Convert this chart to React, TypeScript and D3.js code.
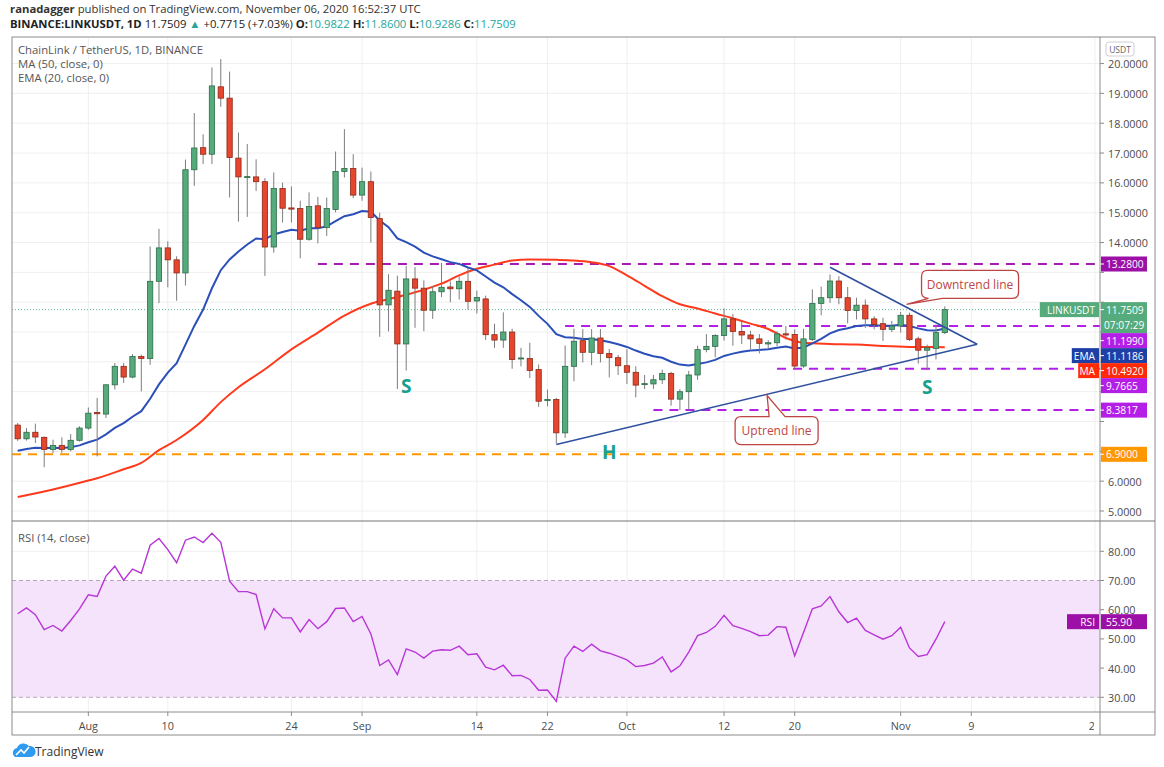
import React from "react";
import * as d3 from "d3";

const W = 1164;
const H = 767;
const FONT = "'Open Sans', 'Noto Sans', sans-serif";

// daily candles, LINK/USDT, first one on 2020-07-24
const firstDate = "2020-07-24";
const opens = [
  7.88, 7.42, 7.64, 7.47, 7.06, 7.2, 7.06, 7.37, 7.78, 8.3,
  8.25, 9.23, 9.85, 9.49, 10.18, 10.11, 12.7, 13.82, 13.42, 12.98,
  16.44, 17.18, 16.96, 19.22, 18.84, 16.83, 16.19, 16.2, 16.04, 13.85,
  15.81, 15.16, 15.14, 14.11, 15.23, 14.5, 15.11, 16.38, 16.48, 15.59,
  16.04, 14.8, 11.91, 12.37, 10.6, 12.78, 12.47, 11.73, 12.35, 12.51,
  12.45, 12.7, 12.04, 12.11, 10.91, 10.73, 11.0, 10.11, 10.11, 9.74,
  8.7, 8.74, 7.62, 9.85, 10.71, 10.32, 10.8, 10.28, 10.14, 9.87,
  9.65, 9.24, 9.26, 9.4, 9.61, 8.75, 9.0, 9.56, 10.41, 10.52,
  10.88, 11.44, 11.02, 10.9, 10.77, 10.6, 10.64, 10.94, 10.92, 9.86,
  10.75, 11.96, 12.15, 12.71, 12.15, 11.72, 11.9, 11.44, 11.28, 11.09,
  11.2, 11.56, 10.77, 10.39, 10.45, 10.9822,
];
const highs = [
  7.95, 7.78, 7.93, 7.5, 7.39, 7.47, 7.58, 7.84, 8.47, 8.79,
  9.25, 9.96, 9.96, 10.26, 10.24, 13.87, 14.46, 14.04, 13.54, 16.78,
  18.34, 17.63, 19.87, 20.15, 19.73, 17.69, 17.3, 16.79, 16.16, 16.35,
  16.01, 15.88, 15.4, 15.68, 15.53, 15.51, 17.05, 17.8, 16.96, 16.51,
  16.38, 15.0, 12.94, 12.89, 13.21, 13.18, 12.73, 12.54, 13.32, 12.7,
  12.87, 13.15, 12.39, 12.22, 11.28, 11.66, 11.11, 10.47, 10.64, 9.91,
  9.07, 8.79, 10.55, 11.11, 11.1, 11.1, 11.1, 10.43, 10.23, 10.43,
  9.85, 9.56, 9.56, 9.74, 9.67, 9.09, 9.7, 10.54, 10.93, 10.93,
  11.79, 11.6, 11.38, 11.04, 10.93, 10.73, 11.03, 11.2, 11.09, 11.11,
  12.43, 12.52, 12.93, 12.87, 12.51, 12.15, 12.09, 11.53, 11.48, 11.37,
  11.67, 11.65, 10.84, 10.58, 11.25, 11.86,
];
const lows = [
  7.35, 7.36, 7.28, 6.47, 6.94, 6.95, 7.0, 7.33, 7.72, 6.83,
  8.12, 9.07, 9.29, 9.45, 9.01, 9.9, 11.97, 12.5, 12.05, 12.56,
  15.9, 16.63, 16.63, 18.55, 15.51, 14.7, 14.86, 15.73, 12.88, 13.66,
  14.67, 14.67, 13.47, 14.06, 13.97, 14.22, 15.01, 16.18, 15.49, 15.4,
  14.0, 10.84, 11.02, 9.09, 9.71, 11.14, 11.03, 11.44, 12.17, 12.0,
  12.09, 11.75, 11.62, 10.73, 10.47, 10.47, 9.77, 9.85, 9.46, 8.49,
  8.51, 7.26, 7.45, 9.35, 9.98, 9.89, 9.98, 9.48, 9.56, 9.26,
  8.81, 9.09, 9.09, 9.26, 8.53, 8.39, 8.4, 9.4, 10.32, 10.15,
  10.71, 10.54, 10.6, 10.43, 10.28, 10.45, 10.53, 10.75, 9.77, 9.8,
  10.7, 11.56, 11.98, 11.93, 11.29, 11.42, 11.14, 11.09, 10.7, 11.0,
  10.98, 10.7, 9.94, 9.72, 10.08, 10.9286,
];
const closes = [
  7.42, 7.64, 7.48, 7.06, 7.2, 7.06, 7.37, 7.78, 8.28, 8.26,
  9.23, 9.85, 9.49, 10.18, 10.11, 12.7, 13.82, 13.42, 12.98, 16.44,
  17.17, 16.96, 19.25, 18.84, 16.85, 16.2, 16.21, 16.04, 13.85, 15.81,
  15.15, 15.12, 14.11, 15.21, 14.5, 15.14, 16.38, 16.48, 15.59, 16.04,
  14.84, 11.91, 12.4, 10.6, 12.78, 12.47, 11.73, 12.35, 12.5, 12.45,
  12.7, 12.03, 12.16, 10.91, 10.73, 11.0, 10.08, 10.13, 9.71, 8.68,
  8.74, 7.62, 9.85, 10.69, 10.32, 10.8, 10.28, 10.14, 9.87, 9.65,
  9.22, 9.27, 9.4, 9.61, 8.75, 9.0, 9.56, 10.41, 10.52, 10.88,
  11.44, 11.02, 10.9, 10.77, 10.62, 10.64, 10.94, 10.9, 9.86, 10.77,
  11.96, 12.15, 12.71, 12.15, 11.72, 11.9, 11.44, 11.25, 11.09, 11.2,
  11.56, 10.75, 10.39, 10.47, 10.98, 11.7509,
];

// EMA(20) value on the first visible candle
const emaSeed = 7.02;

// MA(50)
const maDates = [
  "2020-07-24", "2020-07-28", "2020-08-01", "2020-08-02", "2020-08-05", "2020-08-07",
  "2020-08-09", "2020-08-11", "2020-08-14", "2020-08-16", "2020-08-18", "2020-08-21",
  "2020-08-24", "2020-08-27", "2020-08-30", "2020-09-02", "2020-09-04", "2020-09-06",
  "2020-09-08", "2020-09-10", "2020-09-12", "2020-09-14", "2020-09-16", "2020-09-18",
  "2020-09-20", "2020-09-23", "2020-09-25", "2020-09-27", "2020-09-29", "2020-10-01",
  "2020-10-03", "2020-10-05", "2020-10-07", "2020-10-09", "2020-10-11", "2020-10-13",
  "2020-10-15", "2020-10-17", "2020-10-19", "2020-10-21", "2020-10-24", "2020-10-27",
  "2020-10-30", "2020-11-02", "2020-11-06",
];
const maValues = [
  5.47, 5.72, 6.02, 6.1, 6.4, 6.61,
  7.04, 7.38, 8.05, 8.65, 9.15, 9.75,
  10.42, 10.98, 11.55, 11.95, 12.1, 12.25,
  12.42, 12.62, 12.9, 13.12, 13.26, 13.4,
  13.43, 13.42, 13.4, 13.34, 13.21, 12.9,
  12.55, 12.2, 11.93, 11.79, 11.62, 11.46,
  11.28, 11.1, 10.8, 10.64, 10.6, 10.58,
  10.53, 10.5, 10.492,
];

// RSI(14), one value per candle
const rsiValues = [
  58.6, 60.6, 58.3, 53.2, 54.6, 52.7, 56.3, 60.3, 65.1, 64.5,
  71.5, 74.9, 70.1, 73.9, 72.5, 82.1, 84.4, 80.6, 76.1, 83.8,
  84.9, 83.0, 86.2, 83.1, 69.8, 66.2, 66.2, 65.2, 53.4, 60.3,
  57.2, 57.2, 52.4, 56.6, 53.5, 55.9, 60.4, 60.6, 55.9, 57.7,
  51.7, 40.9, 42.8, 37.8, 46.6, 45.5, 43.4, 45.8, 46.3, 46.1,
  47.5, 44.6, 44.9, 40.3, 39.4, 41.0, 37.4, 37.5, 36.1, 32.4,
  32.5, 28.6, 43.4, 47.5, 45.7, 48.2, 45.9, 45.1, 44.0, 42.8,
  40.5, 40.9, 41.7, 43.8, 38.7, 40.8, 45.5, 51.1, 52.2, 54.3,
  58.1, 54.5, 53.6, 52.5, 51.1, 51.3, 54.2, 54.0, 44.2, 52.2,
  60.3, 61.3, 64.5, 59.3, 55.6, 57.1, 52.9, 51.4, 49.9, 51.1,
  54.0, 46.9, 44.0, 44.6, 49.9, 55.9,
];

// horizontal levels drawn on the chart
const levelValues = [13.28, 11.199, 9.7665, 8.3817, 6.9];
const levelStarts = ["2020-08-27", "2020-09-24", "2020-10-18", "2020-10-04", "2020-07-10"];

// trendlines: [start date, start price, end date, end price]
const downtrend = ["2020-10-24", 13.17, "2020-11-09T16:00:00Z", 10.59] as const;
const uptrend = ["2020-09-23", 7.23, "2020-11-09T16:00:00Z", 10.59] as const;

// pattern labels
const patternTexts = ["S", "H", "S"];
const patternDates = ["2020-09-06", "2020-09-29", "2020-11-04"];
const patternPrices = [9.19, 6.99, 9.17];

// time axis
const timeTickDates = [
  "2020-08-01", "2020-08-10", "2020-08-24", "2020-09-01", "2020-09-14", "2020-09-22",
  "2020-10-01", "2020-10-12", "2020-10-20", "2020-11-01", "2020-11-09", "2020-11-23",
];
const timeTickLabels = ["Aug", "10", "24", "Sep", "14", "22", "Oct", "12", "20", "Nov", "9", "23"];
const rsiTicks = [30, 40, 50, 60, 70, 80];

const parse = (s: string) => new Date(s.length <= 10 ? s + "T00:00:00Z" : s);
const fmt4 = d3.format(".4f");

const C = {
  up: "#56ab7c",
  upLine: "#2c6b48",
  down: "#e6462d",
  downLine: "#8e2818",
  wick: "#7d7d7d",
  ema: "#2a4fb8",
  ma: "#ff3a1c",
  grid: "#efefef",
  axis: "#8c8c8c",
  text: "#4c4c4c",
  violet: "#b41fe8",
  purple: "#9c10a8",
  orange: "#ff9800",
  rsi: "#b835d6",
  trend: "#2f4f9f",
  teal: "#16a08f",
  note: "#bf4545",
};

export default function App() {
  const L = 12, R = 1100, T = 37, MB = 521, RB = 712, FR = 1155, FB = 735;

  const start = parse(firstDate);
  const dates = d3.utcDay.range(start, d3.utcDay.offset(start, closes.length));
  const x = d3.scaleUtc().domain([dates[0], dates[dates.length - 1]]).range([17.7, 944.8]);
  const y = d3.scaleLinear().domain([5, 20]).range([511, 63.55]);
  const ry = d3.scaleLinear().domain([30, 70]).range([697.3, 580.5]);
  const step = x(dates[1]) - x(dates[0]);
  const bw = step * 0.6;

  const k = 2 / 21;
  const ema: number[] = [];
  closes.forEach((c, i) => ema.push(i === 0 ? emaSeed : ema[i - 1] + k * (c - ema[i - 1])));

  const emaLine = d3.line<number>().x((_, i) => x(dates[i])).y((v) => y(v))(ema) || "";
  const maLine =
    d3
      .line<number>()
      .curve(d3.curveMonotoneX)
      .x((_, i) => x(parse(maDates[i])))
      .y((v) => y(v))(maValues) || "";
  const rsiLine = d3.line<number>().x((_, i) => x(dates[i])).y((v) => ry(v))(rsiValues) || "";

  const last = closes[closes.length - 1];
  const priceTicks = y.ticks(15);

  // price tags with TradingView-like stacking
  type Tag = { v: number; color: string; h: number; pill?: string; sub?: string };
  const tags: Tag[] = [
    { v: levelValues[0], color: C.purple, h: 15 },
    { v: last, color: C.up, h: 31, pill: "LINKUSDT", sub: "07:07:29" },
    { v: levelValues[1], color: C.violet, h: 15 },
    { v: ema[ema.length - 1], color: "#1e3fa6", h: 15, pill: "EMA" },
    { v: maValues[maValues.length - 1], color: "#ff2a08", h: 15, pill: "MA" },
    { v: levelValues[2], color: C.violet, h: 15 },
    { v: levelValues[3], color: C.violet, h: 15 },
    { v: levelValues[4], color: C.orange, h: 15 },
  ].sort((a, b) => b.v - a.v);
  let prevBottom = -Infinity;
  const placed = tags.map((t) => {
    let top = y(t.v) - 7.5;
    if (top < prevBottom) top = prevBottom;
    prevBottom = top + t.h;
    return { ...t, top };
  });
  // tick labels hidden under a tag
  const visibleTicks = priceTicks.filter(
    (p) => !placed.some((t) => y(p) > t.top - 5 && y(p) < t.top + t.h + 5)
  );

  const levelColor = (i: number) => (i === 0 ? "#a51ab0" : i === 4 ? C.orange : C.violet);

  // callouts
  const dTip = [x(parse("2020-11-01T16:00:00Z")), y(11.93)];
  const uTip = [x(parse("2020-10-16T21:00:00Z")), y(8.87)];
  const r = 6;
  const dBox = { l: dTip[0] + 15, r: dTip[0] + 112, t: dTip[1] - 34, b: dTip[1] - 6 };
  const uBox = { l: uTip[0] - 32, r: uTip[0] + 51, t: uTip[1] + 21, b: uTip[1] + 49 };
  const dPath = `M${dBox.l + r},${dBox.t}H${dBox.r - r}Q${dBox.r},${dBox.t} ${dBox.r},${dBox.t + r}V${dBox.b - r}Q${dBox.r},${dBox.b} ${dBox.r - r},${dBox.b}H${dBox.l + 21}L${dTip[0]},${dTip[1]}L${dBox.l + 7},${dBox.b}Q${dBox.l},${dBox.b} ${dBox.l},${dBox.b - r}V${dBox.t + r}Q${dBox.l},${dBox.t} ${dBox.l + r},${dBox.t}Z`;
  const uPath = `M${uBox.l + r},${uBox.t}H${uTip[0] + 2}L${uTip[0]},${uTip[1]}L${uTip[0] + 18},${uBox.t}H${uBox.r - r}Q${uBox.r},${uBox.t} ${uBox.r},${uBox.t + r}V${uBox.b - r}Q${uBox.r},${uBox.b} ${uBox.r - r},${uBox.b}H${uBox.l + r}Q${uBox.l},${uBox.b} ${uBox.l},${uBox.b - r}V${uBox.t + r}Q${uBox.l},${uBox.t} ${uBox.l + r},${uBox.t}Z`;

  return (
    <svg
      width={W}
      height={H}
      style={{ position: "absolute", left: 0, top: 0, background: "#fff" }}
      fontFamily={FONT}
    >
      <defs>
        <clipPath id="mainClip">
          <rect x={L} y={T} width={R - L} height={MB - T} />
        </clipPath>
        <clipPath id="rsiClip">
          <rect x={L} y={MB} width={R - L} height={RB - MB} />
        </clipPath>
        <clipPath id="timeClip">
          <rect x={L} y={RB} width={R - L - 6} height={FB - RB} />
        </clipPath>
      </defs>
      <rect width={W} height={H} fill="#fff" />

      {/* header */}
      <text x={10} y={13} fontSize={11.3} fill="#333">
        <tspan fontWeight="bold">ranadagger</tspan> published on TradingView.com, November 06, 2020 16:52:37 UTC
      </text>
      <text x={10} y={28} fontSize={11.3} fill="#222">
        <tspan fontWeight="bold">BINANCE:LINKUSDT, 1D</tspan>
        <tspan> 11.7509 </tspan>
        <tspan fill="#26a69a">▲</tspan>
        <tspan> +0.7715 (+7.03%) </tspan>
        <tspan fontWeight="bold">O:</tspan>
        <tspan fill="#26a69a">10.9822 </tspan>
        <tspan fontWeight="bold">H:</tspan>
        <tspan fill="#26a69a">11.8600 </tspan>
        <tspan fontWeight="bold">L:</tspan>
        <tspan fill="#26a69a">10.9286 </tspan>
        <tspan fontWeight="bold">C:</tspan>
        <tspan fill="#26a69a">11.7509</tspan>
      </text>

      {/* grid */}
      <g stroke={C.grid} strokeWidth={1}>
        {priceTicks.map((p) => (
          <line key={p} x1={L} x2={R} y1={y(p)} y2={y(p)} />
        ))}
        {[40, 50, 60, 80].map((v) => (
          <line key={v} x1={L} x2={R} y1={ry(v)} y2={ry(v)} />
        ))}
        {timeTickDates.map((d) => (
          <line key={d} x1={x(parse(d))} x2={x(parse(d))} y1={T} y2={RB} />
        ))}
      </g>

      {/* main pane */}
      <g clipPath="url(#mainClip)">
        {levelValues.map((v, i) => (
          <line
            key={v}
            x1={Math.max(L, x(parse(levelStarts[i])))}
            x2={R}
            y1={y(v)}
            y2={y(v)}
            stroke={levelColor(i)}
            strokeWidth={2}
            strokeDasharray="9,7"
          />
        ))}
        <line x1={L} x2={R} y1={y(last)} y2={y(last)} stroke="#5bb98a" strokeWidth={1} strokeDasharray="1,2" />
        <path d={maLine} fill="none" stroke={C.ma} strokeWidth={2} />
        <path d={emaLine} fill="none" stroke={C.ema} strokeWidth={2} />
        {dates.map((d, i) => {
          const up = closes[i] >= opens[i];
          const top = y(Math.max(opens[i], closes[i]));
          const bot = y(Math.min(opens[i], closes[i]));
          const cx = x(d);
          return (
            <g key={i}>
              <line x1={cx} x2={cx} y1={y(highs[i])} y2={y(lows[i])} stroke={C.wick} strokeWidth={1} />
              <rect
                x={cx - bw / 2}
                y={top}
                width={bw}
                height={Math.max(1, bot - top)}
                fill={up ? C.up : C.down}
                stroke={up ? C.upLine : C.downLine}
                strokeWidth={0.8}
              />
            </g>
          );
        })}
        {[downtrend, uptrend].map((t, i) => (
          <line
            key={i}
            x1={x(parse(t[0]))}
            y1={y(t[1])}
            x2={x(parse(t[2]))}
            y2={y(t[3])}
            stroke={C.trend}
            strokeWidth={1.6}
          />
        ))}
        {patternTexts.map((s, i) => (
          <text
            key={i}
            x={x(parse(patternDates[i]))}
            y={y(patternPrices[i])}
            textAnchor="middle"
            dominantBaseline="central"
            fontSize={19}
            fontWeight="bold"
            fill={C.teal}
          >
            {s}
          </text>
        ))}
        <path d={dPath} fill="#fff" stroke={C.note} strokeWidth={1.3} />
        <text
          x={(dBox.l + dBox.r) / 2}
          y={(dBox.t + dBox.b) / 2}
          textAnchor="middle"
          dominantBaseline="central"
          fontSize={12}
          fill={C.note}
        >
          Downtrend line
        </text>
        <path d={uPath} fill="#fff" stroke={C.note} strokeWidth={1.3} />
        <text
          x={(uBox.l + uBox.r) / 2}
          y={(uBox.t + uBox.b) / 2}
          textAnchor="middle"
          dominantBaseline="central"
          fontSize={12}
          fill={C.note}
        >
          Uptrend line
        </text>
      </g>

      {/* legend */}
      <g fontSize={11.3} fill="#555">
        <text x={18} y={54}>ChainLink / TetherUS, 1D, BINANCE</text>
        <text x={18} y={68}>MA (50, close, 0)</text>
        <text x={18} y={82}>EMA (20, close, 0)</text>
      </g>

      {/* RSI pane */}
      <g clipPath="url(#rsiClip)">
        <rect x={L} y={ry(70)} width={R - L} height={ry(30) - ry(70)} fill="#f5e3fc" />
        {[70, 30].map((v) => (
          <line key={v} x1={L} x2={R} y1={ry(v)} y2={ry(v)} stroke="#b6a8bc" strokeDasharray="4,3" />
        ))}
        <path d={rsiLine} fill="none" stroke={C.rsi} strokeWidth={1.4} />
      </g>
      <text x={18} y={542} fontSize={11.3} fill="#555">
        RSI (14, close)
      </text>

      {/* frame */}
      <rect x={L} y={T} width={FR - L} height={FB - T} fill="none" stroke={C.axis} />
      <line x1={L} x2={FR} y1={MB} y2={MB} stroke="#777" strokeWidth={1.2} />
      <line x1={L} x2={FR} y1={RB} y2={RB} stroke={C.axis} />
      <line x1={R} x2={R} y1={T} y2={FB} stroke={C.axis} />

      {/* price axis */}
      <g fontSize={10.8} fill={C.text}>
        {priceTicks.map((p) => (
          <line key={p} x1={R} x2={R + 4} y1={y(p)} y2={y(p)} stroke={C.axis} />
        ))}
        {visibleTicks.map((p) => (
          <text key={p} x={R + 8} y={y(p)} dominantBaseline="central">
            {fmt4(p)}
          </text>
        ))}
        {rsiTicks.map((v) => (
          <g key={v}>
            <line x1={R} x2={R + 4} y1={ry(v)} y2={ry(v)} stroke={C.axis} />
            <text x={R + 8} y={ry(v)} dominantBaseline="central">
              {v.toFixed(2)}
            </text>
          </g>
        ))}
      </g>
      <rect x={1106} y={42} width={28} height={14} rx={3} fill="#fff" stroke="#d0d0d8" />
      <text x={1120} y={49} fontSize={8.5} fill="#666" textAnchor="middle" dominantBaseline="central">
        USDT
      </text>

      {/* price tags */}
      <g fontSize={10.2} fill="#fff">
        {placed.map((t, i) => (
          <g key={i}>
            {t.pill && (
              <>
                <rect
                  x={R - 1 - (t.pill.length * 6.4 + 8)}
                  y={t.top}
                  width={t.pill.length * 6.4 + 8}
                  height={15}
                  fill={t.color}
                />
                <text x={R - 5} y={t.top + 7.5} textAnchor="end" dominantBaseline="central">
                  {t.pill}
                </text>
              </>
            )}
            <rect x={R + 1} y={t.top} width={46} height={t.h} fill={t.color} />
            <line x1={R} x2={R + 4} y1={t.top + 7.5} y2={t.top + 7.5} stroke="#fff" />
            <text x={R + 6} y={t.top + 7.5} dominantBaseline="central">
              {fmt4(t.v)}
            </text>
            {t.sub && (
              <text x={R + 4} y={t.top + 23} dominantBaseline="central">
                {t.sub}
              </text>
            )}
          </g>
        ))}
        <rect x={R - 33} y={ry(55.9) - 7.5} width={32} height={15} fill="#9c10a8" />
        <text x={R - 5} y={ry(55.9)} textAnchor="end" dominantBaseline="central">
          RSI
        </text>
        <rect x={R + 1} y={ry(55.9) - 7.5} width={46} height={15} fill="#9c10a8" />
        <text x={R + 6} y={ry(55.9)} dominantBaseline="central">
          {rsiValues[rsiValues.length - 1].toFixed(2)}
        </text>
      </g>

      {/* time axis */}
      <g clipPath="url(#timeClip)" fontSize={10.8} fill={C.text}>
        {timeTickDates.map((d, i) => (
          <g key={d}>
            <line x1={x(parse(d))} x2={x(parse(d))} y1={RB} y2={RB + 4} stroke={C.axis} />
            <text x={x(parse(d))} y={RB + 13} textAnchor="middle" dominantBaseline="central">
              {timeTickLabels[i]}
            </text>
          </g>
        ))}
      </g>

      {/* footer logo */}
      <g transform="translate(12,743)">
        <path d="M3,14 a5,5 0 0 1 2,-9 a7,7 0 0 1 12,-2 a5,5 0 0 1 2,11 z" fill="#2f9bf0" />
        <path d="M4,12 L9,7 L12,10 L17,4" fill="none" stroke="#fff" strokeWidth={1.6} />
      </g>
      <text x={35} y={756} fontSize={12} fill="#333">
        TradingView
      </text>
    </svg>
  );
}
